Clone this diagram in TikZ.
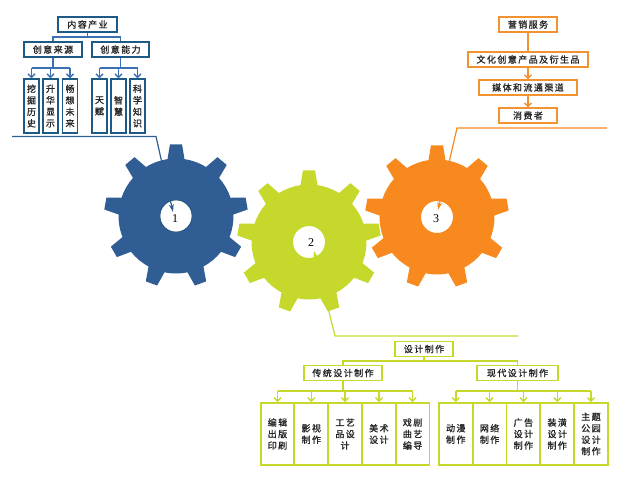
\documentclass[tikz,border=0pt]{standalone}
\usepackage{fontspec}
\newfontfamily\cjk[LetterSpace=16,FakeBold=1.2]{Noto Sans CJK SC}
\newfontfamily\numfont{Liberation Serif}
\usetikzlibrary{arrows.meta}
\definecolor{gblue}{HTML}{2F5D94}
\definecolor{bborder}{HTML}{1E5A86}
\definecolor{bline}{HTML}{3B70B3}
\definecolor{ggreen}{HTML}{C6D82C}
\definecolor{gborder}{HTML}{C6D92A}
\definecolor{gorange}{HTML}{F7891F}
\definecolor{oborder}{HTML}{F29333}
\newcommand{\mygear}[2]{%
  \begin{scope}[shift={(#1)}]
  \fill[#2, even odd rule] ({-90-8.5}:57.5)
    \foreach \k in {0,...,8}{
      -- ({-90+40*\k-4.8}:72) -- ({-90+40*\k+4.8}:72) -- ({-90+40*\k+8.5}:57.5)
      arc[start angle={-90+40*\k+8.5}, end angle={-90+40*\k+40-8.5}, radius=57.5]
    } -- cycle (0,0) circle[radius=16];
  \end{scope}}
\tikzset{
  boxbase/.style={draw, fill=white, inner sep=0pt, text=black!85,
    font=\cjk\fontsize{9}{11.5}\selectfont, align=center},
  bbox/.style={boxbase, draw=bborder, line width=1.4pt},
  obox/.style={boxbase, draw=oborder, line width=1.4pt},
  gbox/.style={boxbase, draw=gborder, line width=1.8pt},
  bconn/.style={draw=bline, line width=1.3pt},
  barr/.style={bconn, -{Straight Barb[length=3.5pt,width=7pt]}},
  oconn/.style={draw=oborder, line width=1.3pt},
  oarr/.style={oconn, -{Straight Barb[length=3.5pt,width=7pt]}},
  gconn/.style={draw=gborder, line width=1.4pt},
  garr/.style={gconn, -{Straight Barb[length=3.5pt,width=7pt]}},
  hbox/.style={minimum height=15},
  vleaf/.style={minimum width=15, minimum height=54},
  gleaf/.style={minimum width=33.7, minimum height=62},
  num/.style={font=\numfont\fontsize{12}{12}\selectfont, inner sep=0pt}
}
\begin{document}
\begin{tikzpicture}[x=1pt,y=-1pt]
\useasboundingbox (0,0) rectangle (640,480);
% ---------- lines to gears ----------
\coordinate (bstart) at (12,136.5);
\coordinate (bbend) at (156,136.5);
\coordinate (g1tip) at (173,212);
\draw[draw=gblue, line width=1.2pt, -{Stealth[length=8pt,width=5pt]}] (bstart) -- (bbend) -- (g1tip);
\coordinate (ostart) at (607,128);
\coordinate (obend) at (457,128);
\coordinate (g3tip) at (438,210);
\draw[draw=gorange, line width=1.2pt, -{Stealth[length=8pt,width=5pt]}] (ostart) -- (obend) -- (g3tip);
\coordinate (gstart) at (518,336);
\coordinate (gbend) at (335,336);
\coordinate (g2tip) at (314,251);
\draw[draw=ggreen, line width=1.2pt, -{Stealth[length=8pt,width=5pt]}] (gstart) -- (gbend) -- (g2tip);
% ---------- gears ----------
\mygear{176,216}{gblue}
\mygear{437,217}{gorange}
\mygear{309,242}{ggreen}
\draw[draw=bborder!80!black, line width=0.5pt] (176,216) circle[radius=16];
\node[num] (n1) at (175,219) {1};
\node[num] (n2) at (311,243) {2};
\node[num] (n3) at (436,219) {3};
% ---------- blue tree ----------
\node[bbox, hbox, minimum width=59] (nc) at (87.5,24.5) {内容产业};
\node[bbox, hbox, minimum width=58] (s1) at (53,49.5) {创意来源};
\node[bbox, hbox, minimum width=57] (s2) at (120.5,49.5) {创意能力};
\coordinate (nb) at (87.5,37);
\draw[bconn] (nc.south) -- (nb);
\draw[bconn] (s1.north) |- (nb) -| (s2.north);
\node[bbox, vleaf] (l1) at (31.5,106) {挖\\掘\\历\\史};
\node[bbox, vleaf] (l2) at (50.5,106) {升\\华\\显\\示};
\node[bbox, vleaf] (l3) at (70,106) {畅\\想\\未\\来};
\node[bbox, vleaf] (l4) at (99.5,106) {天\\赋};
\node[bbox, vleaf] (l5) at (118.5,106) {智\\慧};
\node[bbox, vleaf] (l6) at (137.5,106) {科\\学\\知\\识};
\coordinate (h1) at (53,68);
\coordinate (h2) at (118.5,68);
\draw[bconn] (s1.south) -- (h1);
\draw[bconn] (s2.south) -- (s2.south |- h2);
\draw[bconn] (l1.north |- h1) -- (l3.north |- h1);
\draw[bconn] (l4.north |- h2) -- (l6.north |- h2);
\foreach \l in {l1,l2,l3}{\draw[barr] (\l.north |- h1) -- (\l.north);}
\foreach \l in {l4,l5,l6}{\draw[barr] (\l.north |- h2) -- (\l.north);}
% ---------- orange tree ----------
\node[obox, hbox, minimum width=58] (o1) at (528,24.5) {营销服务};
\node[obox, hbox, minimum width=120] (o2) at (528,59.5) {文化创意产品及衍生品};
\node[obox, hbox, minimum width=98] (o3) at (528,87.5) {媒体和流通渠道};
\node[obox, hbox, minimum width=58] (o4) at (528,115.5) {消费者};
\draw[oconn] (o1) -- (o2);
\draw[oarr] (o2) -- (o3);
\draw[oarr] (o3) -- (o4);
% ---------- green tree ----------
\node[gbox, hbox, minimum width=58] (d0) at (424,349) {设计制作};
\node[gbox, hbox, minimum width=78] (d1) at (343,373) {传统设计制作};
\node[gbox, hbox, minimum width=81] (d2) at (517.5,373) {现代设计制作};
\coordinate (dh) at (424,361);
\draw[gconn] (d0.south) -- (dh);
\draw[gconn] (d1.north) |- (dh) -| (d2.north);
\node[gbox, gleaf] (a1) at (277.5,434) {编辑\\出版\\印刷};
\node[gbox, gleaf] (a2) at (311.3,434) {影视\\制作};
\node[gbox, gleaf] (a3) at (345.1,434) {工艺\\品设\\计};
\node[gbox, gleaf] (a4) at (378.9,434) {美术\\设计};
\node[gbox, gleaf] (a5) at (412.6,434) {戏剧\\曲艺\\编导};
\node[gbox, gleaf] (b1) at (455.8,434) {动漫\\制作};
\node[gbox, gleaf] (b2) at (489.6,434) {网络\\制作};
\node[gbox, gleaf] (b3) at (523.4,434) {广告\\设计\\制作};
\node[gbox, gleaf] (b4) at (557.2,434) {装潢\\设计\\制作};
\node[gbox, gleaf] (b5) at (591,434) {主题\\公园\\设计\\制作};
\coordinate (ha) at (343,391);
\coordinate (hb) at (517.5,391);
\draw[gconn] (d1.south) -- (ha);
\draw[gconn] (d2.south) -- (hb);
\draw[gconn] (a1.north |- ha) -- (a5.north |- ha);
\draw[gconn] (b1.north |- hb) -- (b5.north |- hb);
\foreach \l in {a1,a2,a3,a4,a5}{\draw[garr] (\l.north |- ha) -- (\l.north);}
\foreach \l in {b1,b2,b3,b4,b5}{\draw[garr] (\l.north |- hb) -- (\l.north);}
\end{tikzpicture}
\end{document}
